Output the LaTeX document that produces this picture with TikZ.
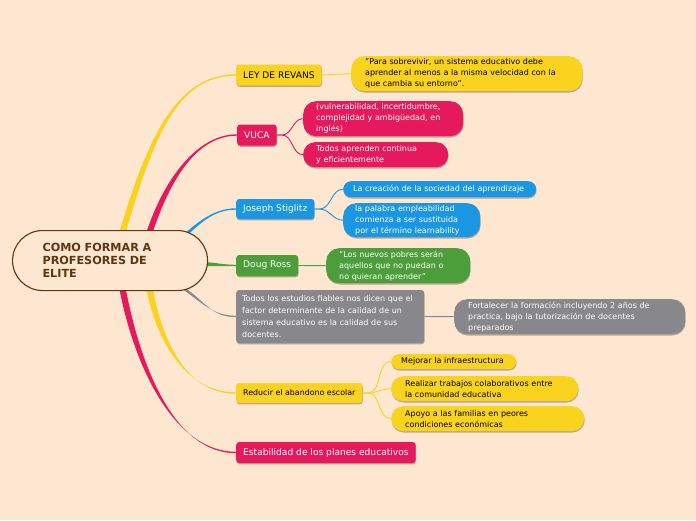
\documentclass[tikz,border=0pt]{standalone}
\usepackage{fontspec}
\setmainfont{DejaVu Sans}
\usepackage{tikz}
\usetikzlibrary{calc,shadows}

\definecolor{paper}{RGB}{253,231,209}
\definecolor{mmyellow}{RGB}{249,211,29}
\definecolor{mmpink}{RGB}{229,25,92}
\definecolor{mmblue}{RGB}{27,150,227}
\definecolor{mmgreen}{RGB}{76,158,58}
\definecolor{mmgray}{RGB}{136,136,140}
\definecolor{mmbrown}{RGB}{96,54,16}

% tapered main branch: colour, from, to, out offset, in offset, half width
\newcommand{\taper}[6]{%
  \fill[#1] ($(#2)-(#6)$) .. controls +(#4) and +(#5) .. ($(#3)+(0,-0.7)$)
    -- ($(#3)+(0,0.7)$) .. controls +(#5) and +(#4) .. ($(#2)+(#6)$) -- cycle;}

\begin{document}
\begin{tikzpicture}[
    x=1pt,y=-1pt,
    shade/.style={drop shadow={shadow xshift=0.4pt,shadow yshift=-1.3pt,
      opacity=0.28,fill=black}},
    topic/.style={rounded corners=3pt,minimum height=21pt,inner xsep=7pt,
      inner ysep=2pt,anchor=west,shade,font=\fontsize{9.1}{11}\selectfont},
    leaf/.style={rounded corners=13pt,inner xsep=14pt,inner ysep=1pt,
      align=left,anchor=north west,shade,font=\fontsize{8}{11}\selectfont},
    yel/.style={fill=mmyellow,text=black},
    pnk/.style={fill=mmpink,text=white},
    blu/.style={fill=mmblue,text=white},
    grn/.style={fill=mmgreen,text=white},
    gry/.style={fill=mmgray,text=white},
    twig/.style={draw=#1,line width=0.9pt}
  ]
    \fill[paper] (0,0) rectangle (696,520);
    \useasboundingbox (0,0) rectangle (696,520);

    % first level topics
    \node[topic,yel] (ley) at (236,75) {LEY DE REVANS};
    \node[topic,pnk] (vuca) at (237,135) {VUCA};
    \node[topic,blu,minimum height=20pt] (joseph) at (236,209) {Joseph Stiglitz};
    \node[topic,grn] (doug) at (236,265.5) {Doug Ross};
    \node[topic,gry,text width=176pt,align=left,minimum height=53pt,
      inner xsep=6pt,font=\fontsize{8}{12}\selectfont] (studies) at (236,316.5)
      {Todos los estudios fiables nos dicen que el\\factor determinante de la
      calidad de un\\sistema educativo es la calidad de sus\\docentes.};
    \node[topic,yel,minimum height=20pt,font=\fontsize{7.9}{10}\selectfont]
      (dropout) at (236,393) {Reducir el abandono escolar};
    \node[topic,pnk] (plans) at (236,452.5) {Estabilidad de los planes educativos};

    % second level ideas
    \node[leaf,yel,text width=203pt,minimum height=35pt] (revans) at (351,56)
      {"Para sobrevivir, un sistema educativo debe\\aprender al menos a la
      misma velocidad con la\\que cambia su entorno".};
    \node[leaf,pnk,text width=134pt,minimum height=35pt,inner xsep=13pt]
      (vuca1) at (303,101)
      {(vulnerabilidad, incertidumbre,\\complejidad y ambigüedad, en\\inglés)};
    \node[leaf,pnk,text width=119pt,minimum height=25pt,rounded corners=12pt,
      inner xsep=13pt] (vuca2) at (303,142)
      {Todos aprenden continua\\y eficientemente};
    \node[leaf,blu,text width=173pt,minimum height=16pt,rounded corners=8pt,
      inner xsep=10pt] (joseph1) at (343,181)
      {La creación de la sociedad del aprendizaje};
    \node[leaf,blu,text width=113pt,minimum height=34pt,inner xsep=12pt]
      (joseph2) at (343,203)
      {la palabra empleabilidad\\comienza a ser sustituida\\por el término learnability};
    \node[leaf,grn,text width=118pt,minimum height=35pt,inner xsep=13pt]
      (doug1) at (326,248)
      {"Los nuevos pobres serán\\aquellos que no puedan o\\no quieran aprender"};
    \node[leaf,gry,text width=203pt,minimum height=35pt] (studies1) at (454,299)
      {Fortalecer la formación incluyendo 2 años de\\practica, bajo la
      tutorización de docentes\\preparados};
    \node[leaf,yel,text width=105pt,minimum height=15pt,rounded corners=7.5pt,
      inner xsep=10pt] (dropout1) at (391,354) {Mejorar la infraestructura};
    \node[leaf,yel,text width=159pt,minimum height=25pt,rounded corners=12pt]
      (dropout2) at (391,376)
      {Realizar trabajos colaborativos entre\\la comunidad educativa};
    \node[leaf,yel,text width=165pt,minimum height=25pt,rounded corners=12pt]
      (dropout3) at (391,406)
      {Apoyo a las familias en peores\\condiciones económicas};

    % thin links
    \draw[twig=mmyellow] (ley.east) -- (revans.west);
    \draw[twig=mmpink] (vuca.east) -- ++(5,0) to[out=0,in=180] (vuca1.west);
    \draw[twig=mmpink] (vuca.east) -- ++(5,0) to[out=0,in=180] (vuca2.west);
    \draw[twig=mmblue] (joseph.east) -- ++(5,0) to[out=0,in=180] (joseph1.west);
    \draw[twig=mmblue] (joseph.east) -- ++(5,0) to[out=0,in=180] (joseph2.west);
    \draw[twig=mmgreen] (doug.east) -- (doug1.west);
    \draw[twig=mmgray] (studies.east) -- (studies1.west);
    \draw[twig=mmyellow] (dropout.east) -- ++(5,0) to[out=0,in=180] (dropout1.west);
    \draw[twig=mmyellow] (dropout.east) -- ++(5,0) to[out=0,in=180] (dropout2.west);
    \draw[twig=mmyellow] (dropout.east) -- ++(5,0) to[out=0,in=180] (dropout3.west);

    % main branches
    \coordinate (root1) at (122,234);
    \coordinate (root2) at (149,234);
    \coordinate (root3) at (184,236);
    \coordinate (root4) at (200,264);
    \coordinate (root5) at (180,286);
    \coordinate (root6) at (149,286);
    \coordinate (root7) at (122,286);
    \taper{mmyellow}{root1}{ley.west}{28,-95}{-60,0}{3.2,0}
    \taper{mmpink}{root2}{vuca.west}{18,-55}{-40,0}{3.2,0}
    \taper{mmblue}{root3}{joseph.west}{16,-14}{-22,0}{2.2,0}
    \taper{mmgreen}{root4}{doug.west}{15,0}{-15,0}{0,2}
    \taper{mmgray}{root5}{studies.west}{22,14}{-25,0}{2.2,0}
    \taper{mmyellow}{root6}{dropout.west}{10,55}{-50,0}{3.2,0}
    \taper{mmpink}{root7}{plans.west}{16,85}{-60,0}{3.2,0}

    % central topic
    \node[draw=mmbrown,line width=1.1pt,fill=paper,rounded corners=30pt,
      minimum height=60pt,text width=135pt,inner xsep=30pt,align=left,
      anchor=north west,text=mmbrown,
      font=\bfseries\fontsize{11.2}{13}\selectfont] (root) at (12,230)
      {COMO FORMAR A\\PROFESORES DE\\ELITE};
\end{tikzpicture}
\end{document}
